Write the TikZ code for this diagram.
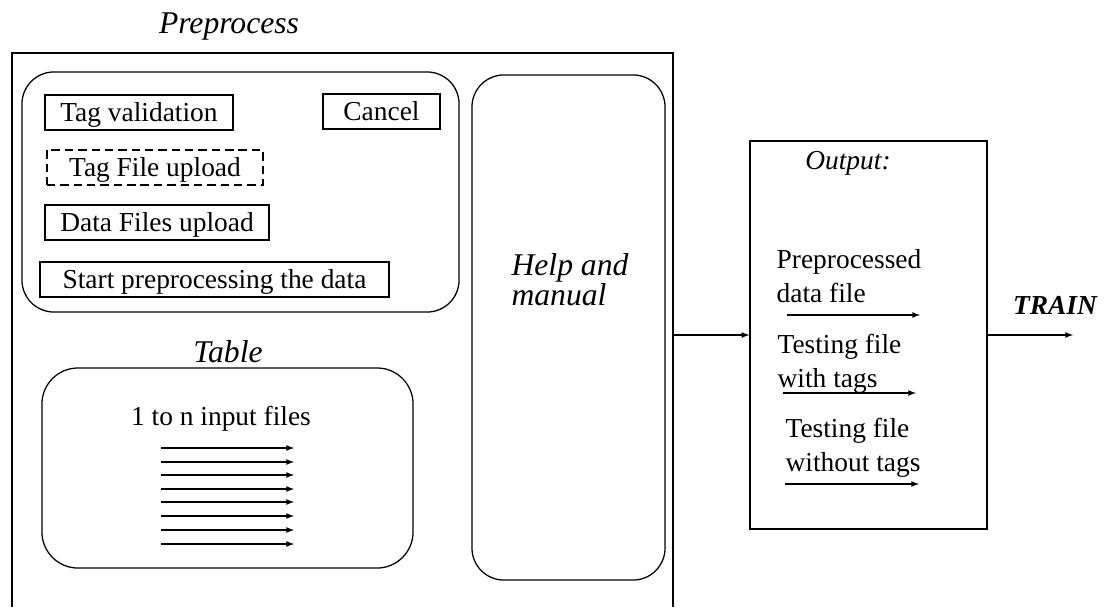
\documentclass[tikz,border=0pt]{standalone}
\usepackage{fontspec}
\setmainfont{Liberation Serif}
\usetikzlibrary{positioning}
\usetikzlibrary{calc,arrows}

\newcommand{\bodyfont}{\fontsize{19.5}{24}\selectfont}
\newcommand{\headfont}{\fontsize{22.5}{21.3}\selectfont\itshape}

\begin{document}
\begin{tikzpicture}
	[   x=0.025cm,y=-0.025cm,line width=0.9pt,
		tbox/.style={draw=black,minimum height=0.875cm,minimum width=#1,inner sep=0pt,text height=12.9pt,text depth=0pt,font=\bodyfont},
		rbox/.style={draw=black,rounded corners=0.8cm,inner sep=0pt},
		ltext/.style={align=left,inner sep=0pt,anchor=north west,font=\bodyfont},
	]
	\tikzset{normal arrow/.style={draw,-latex}}
	\useasboundingbox (0,0) rectangle (1109,607);
	
	% preprocess frame, open at the bottom
	\node[font=\headfont] (pre-title) at (229,27) {Preprocess};
	\draw (12,607) -- (12,53) -- (673,53) -- (673,607);
	\coordinate (pre-east) at (673,335);
	
	\node[rbox,minimum width=10.925cm,minimum height=6cm] (menu) at (240.5,192) {};
	\node[tbox=4.7cm] (tag-val) at (139,112.5) {Tag validation};
	\node[tbox=2.925cm] (cancel) at (381.5,111.5) {Cancel};
	\node[tbox=5.4cm,dash pattern=on 6pt off 3.5pt] (tag-up) at (155,167.5) {Tag File upload};
	\node[tbox=5.6cm] (data-up) at (157,222.5) {Data Files upload};
	\node[tbox=8.725cm] (start) at (214.5,279.5) {Start preprocessing the data};
	
	\node[font=\headfont] (tab-title) at (228,352) {Table};
	\node[rbox,rounded corners=0.9cm,minimum width=9.275cm,minimum height=5cm] (table) at (227.5,468) {};
	\node[font=\bodyfont] (in-files) at (221,419) {1 to n input files};
	
	\foreach \y [count=\x] in {448,462,475,489,502,516,530,544}
	{
		\coordinate (a-\x) at (161,\y);
		\coordinate (b-\x) at (294,\y);
		\path[normal arrow] (a-\x) -- (b-\x);
	}
	
	\node[rbox,minimum width=4.825cm,minimum height=12.625cm] (help) at (568.5,327.5) {};
	\node[font=\headfont,align=left] (help-txt) at (570,280) {Help and\\manual};
	
	% output
	\node[draw=black,inner sep=0pt,minimum width=5.925cm,minimum height=9.7cm] (out) at (868.5,335) {};
	\node[font=\bodyfont\itshape] (out-title) at (848,163) {Output:};
	\path[normal arrow] (pre-east) -- (out.west);
	
	\node[ltext] (o-1) at (776,249) {Preprocessed\\data file};
	\node[ltext] (o-2) at (777,334) {Testing file\\with tags};
	\node[ltext] (o-3) at (785,418) {Testing file\\without tags};
	
	\coordinate (c-1) at (787,315); \coordinate (d-1) at (920,315);
	\coordinate (c-2) at (783,393); \coordinate (d-2) at (916,393);
	\coordinate (c-3) at (785,484); \coordinate (d-3) at (919,484);
	\foreach \x in {1,...,3}
	{
		\path[normal arrow] (c-\x) -- (d-\x);
	}
	
	\coordinate (train) at (1073,335);
	\path[normal arrow] (out.east) -- (train);
	\node[font=\fontsize{19.5}{24}\selectfont\bfseries\itshape] (train-txt) at (1055,305) {TRAIN};
\end{tikzpicture}
\end{document}
